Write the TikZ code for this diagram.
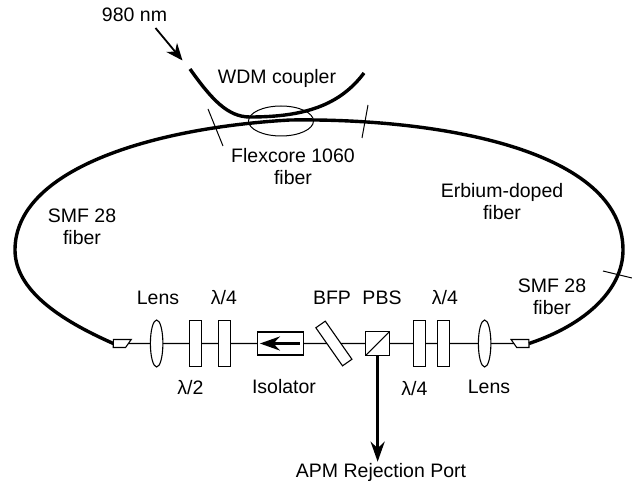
\documentclass[tikz,border=0pt]{standalone}
\usepackage{fontspec}
\setmainfont{Liberation Sans}
\usepackage{tikz}
\usetikzlibrary{shapes.geometric, arrows.meta, positioning, calc}

\begin{document}
\begin{tikzpicture}[
  x=1pt, y=-1pt,
  txt/.style={inner sep=1pt, align=center, font=\fontsize{19.5}{22}\selectfont},
  fiber/.style={line width=3.4pt},
  beam/.style={line width=1.2pt},
  splice/.style={line width=1pt},
  plate/.style={rectangle, draw, fill=white, line width=1.1pt, outer sep=0pt, minimum width=12pt, minimum height=46.5pt},
  lens/.style={ellipse, draw, fill=white, line width=1.1pt, outer sep=0pt, inner sep=0pt, minimum width=12.5pt, minimum height=47pt},
  ferrule/.style={trapezium, draw, fill=white, line width=1.1pt, outer sep=0pt, inner sep=1pt, trapezium stretches=true, minimum width=18pt, minimum height=8pt},
  bigarrow/.style={-{Stealth[length=20pt, width=14pt]}, line width=2.8pt}
]
\useasboundingbox (0,0) rectangle (632,486);

% Bench
\node[ferrule, trapezium left angle=89, trapezium right angle=115] (ferruleL) at (119.5,343.5) {};
\node[lens, right=22pt of ferruleL] (lensL) {};
\node[plate, right=27pt of lensL] (halfwave) {};
\node[plate, right=17pt of halfwave] (quarterA) {};
\node[rectangle, draw, fill=white, line width=1.1pt, outer sep=0pt, minimum width=46pt, minimum height=23pt, right=27pt of quarterA] (isolator) {};
\node[rectangle, draw, fill=white, line width=1.1pt, outer sep=0pt, minimum width=23.5pt, minimum height=23.5pt, right=62pt of isolator] (pbs) {};
\node[plate, minimum width=46.5pt, minimum height=11.5pt, rotate=-55] (bfp) at ($(isolator.center)+(53,0)$) {};
\node[plate, right=24pt of pbs] (quarterB) {};
\node[plate, right=12pt of quarterB] (quarterC) {};
\node[lens, right=29pt of quarterC] (lensR) {};
\node[ferrule, trapezium left angle=115, trapezium right angle=89, right=23pt of lensR] (ferruleR) {};

% Labels
\node[txt] (pump) at (134.5,15) {980 nm};
\node[txt] (wdm) at (277,78) {WDM coupler};
\node[txt] (flexcore) at (293,166.5) {Flexcore 1060\\fiber};
\node[txt] (smfL) at (82,226.5) {SMF 28\\fiber};
\node[txt] (erbium) at (502,201.5) {Erbium-doped\\fiber};
\node[txt] (smfR) at (552,296.5) {SMF 28\\fiber};
\node[txt] (lensLlabel) at (158,298) {Lens};
\node[txt] (quarterAlabel) at (224,298) {λ/4};
\node[txt] (bfplabel) at (332,298) {BFP};
\node[txt] (pbslabel) at (382,298) {PBS};
\node[txt] (quarterClabel) at (445,298) {λ/4};
\node[txt] (halfwavelabel) at (190.5,388) {λ/2};
\node[txt] (isolatorlabel) at (284,387) {Isolator};
\node[txt] (quarterBlabel) at (414.5,389) {λ/4};
\node[txt] (lensRlabel) at (489,387) {Lens};
\node[txt] (apm) at (381,472) {APM Rejection Port};

% Coupler
\node[ellipse, draw, line width=1pt, inner sep=0pt, minimum width=65pt, minimum height=30pt] (coupling) at (281,121) {};
\draw[fiber] (190,69) .. controls (212,100) and (228,117) .. (250,117) .. controls (305,117) and (340,105) .. (364,73);

% Ring
\coordinate (ringW) at (15,250);
\coordinate (ringN) at (290,120);
\coordinate (ringE) at (623,250);
\draw[fiber] (ferruleL.west) .. controls (60,320) and (15,290) .. (ringW)
  .. controls (15,170) and (150,128) .. (ringN)
  .. controls (440,118) and (623,150) .. (ringE)
  .. controls (623,290) and (585,325) .. (ferruleR.east);

% Splices
\draw[splice] (208,109) -- (223,146);
\draw[splice] (368,105) -- (362,138);
\draw[splice] (603,271) -- (632,278);

% Beam
\draw[beam] (ferruleL) -- (lensL) -- (halfwave) -- (quarterA) -- (isolator) -- (bfp) -- (pbs) -- (quarterB) -- (quarterC) -- (lensR) -- (ferruleR);
\draw[line width=1pt] (pbs.south west) -- (pbs.north east);

% Arrows
\coordinate (pumpStart) at (155.5,28);
\coordinate (pumpTip) at (182.5,60.5);
\draw[-{Stealth[length=17pt, width=14pt]}, line width=1.8pt] (pumpStart) -- (pumpTip);
\draw[bigarrow] ($(isolator.east)+(-4,0)$) -- ($(isolator.west)+(2,0)$);
\draw[bigarrow] (pbs.south) -- (pbs.south |- apm.north);

\end{tikzpicture}
\end{document}
